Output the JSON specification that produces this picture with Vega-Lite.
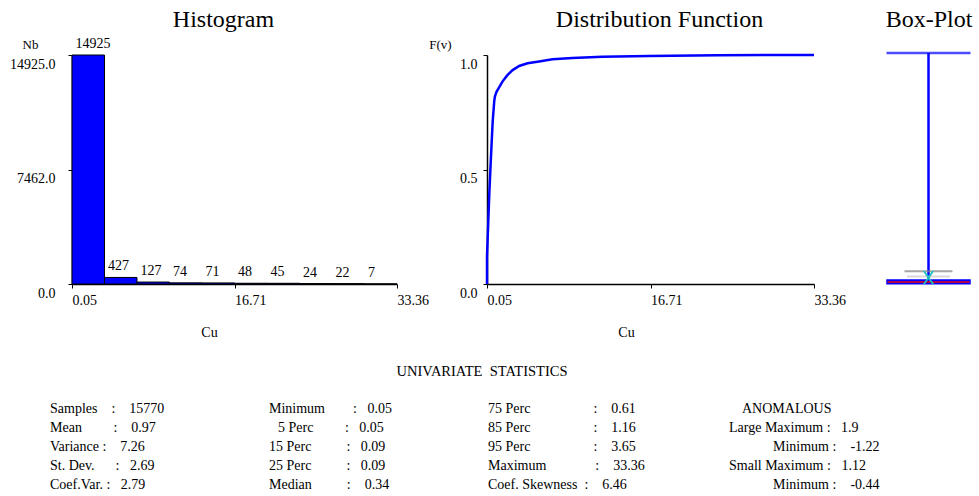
{
  "$schema": "https://vega.github.io/schema/vega-lite/v6.json",
  "width": 979,
  "height": 496,
  "autosize": {"type": "none"},
  "padding": 0,
  "background": "#ffffff",
  "config": {
    "view": {"stroke": null},
    "font": "Liberation Serif",
    "text": {"font": "Liberation Serif", "color": "#000000"},
    "axis": {
      "domainColor": "#000000",
      "domainWidth": 1.5,
      "tickColor": "#000000",
      "tickWidth": 1,
      "tickSize": 4,
      "labelColor": "#000000",
      "labelFont": "Liberation Serif",
      "labelFontSize": 14,
      "titleFont": "Liberation Serif",
      "titleFontSize": 14,
      "titleFontWeight": "normal",
      "titleColor": "#000000",
      "grid": false,
      "labelFlush": false,
      "labelOverlap": false,
      "labelBound": false
    }
  },
  "datasets": {
    "hist": [
      {"lo": 0.05, "hi": 3.38, "count": 14925},
      {"lo": 3.38, "hi": 6.71, "count": 427},
      {"lo": 6.71, "hi": 10.04, "count": 127},
      {"lo": 10.04, "hi": 13.37, "count": 74},
      {"lo": 13.37, "hi": 16.71, "count": 71},
      {"lo": 16.71, "hi": 20.04, "count": 48},
      {"lo": 20.04, "hi": 23.37, "count": 45},
      {"lo": 23.37, "hi": 26.70, "count": 24},
      {"lo": 26.70, "hi": 30.03, "count": 22},
      {"lo": 30.03, "hi": 33.36, "count": 7}
    ],
    "ecdf": [
      {"cu": 0.05, "F": 0},
      {"cu": 0.05, "F": 0.12},
      {"cu": 0.29, "F": 0.40},
      {"cu": 0.46, "F": 0.56},
      {"cu": 0.63, "F": 0.71},
      {"cu": 0.79, "F": 0.80},
      {"cu": 0.86, "F": 0.82},
      {"cu": 1.03, "F": 0.84},
      {"cu": 1.30, "F": 0.86},
      {"cu": 1.64, "F": 0.885},
      {"cu": 2.15, "F": 0.913},
      {"cu": 2.66, "F": 0.934},
      {"cu": 3.33, "F": 0.952},
      {"cu": 4.18, "F": 0.964},
      {"cu": 5.36, "F": 0.972},
      {"cu": 6.72, "F": 0.981},
      {"cu": 8.75, "F": 0.987},
      {"cu": 11.80, "F": 0.992},
      {"cu": 16.53, "F": 0.996},
      {"cu": 23.64, "F": 0.999},
      {"cu": 33.36, "F": 1.0}
    ],
    "box": [
      {"variable": "Cu", "q1": 0.09, "median": 0.34, "q3": 0.61, "max": 33.36, "mean": 0.97, "large_max": 1.9, "small_max": 1.12}
    ],
    "texts": [
      {"text": "Histogram", "kind": "title", "col": 1, "row": 0},
      {"text": "Distribution Function", "kind": "title", "col": 6, "row": 0},
      {"text": "Box-Plot", "kind": "title", "col": 10, "row": 0},
      {"text": "UNIVARIATE\u00a0\u00a0STATISTICS", "kind": "header", "col": 4, "row": 1},
      {"text": "Samples\u00a0\u00a0\u00a0\u00a0:\u00a0\u00a0\u00a0\u00a015770", "kind": "stat", "col": 0, "row": 2},
      {"text": "Mean\u00a0\u00a0\u00a0\u00a0\u00a0\u00a0\u00a0\u00a0\u00a0:\u00a0\u00a0\u00a0\u00a00.97", "kind": "stat", "col": 0, "row": 3},
      {"text": "Variance\u00a0:\u00a0\u00a0\u00a0\u00a07.26", "kind": "stat", "col": 0, "row": 4},
      {"text": "St. Dev.\u00a0\u00a0\u00a0\u00a0\u00a0\u00a0:\u00a0\u00a0\u00a02.69", "kind": "stat", "col": 0, "row": 5},
      {"text": "Coef.Var.\u00a0:\u00a0\u00a0\u00a02.79", "kind": "stat", "col": 0, "row": 6},
      {"text": "Minimum\u00a0\u00a0\u00a0\u00a0\u00a0\u00a0\u00a0\u00a0:\u00a0\u00a0\u00a00.05", "kind": "stat", "col": 2, "row": 2},
      {"text": "5 Perc\u00a0\u00a0\u00a0\u00a0\u00a0\u00a0\u00a0\u00a0\u00a0:\u00a0\u00a0\u00a00.05", "kind": "stat", "col": 3, "row": 3},
      {"text": "15 Perc\u00a0\u00a0\u00a0\u00a0\u00a0\u00a0\u00a0\u00a0\u00a0\u00a0:\u00a0\u00a0\u00a00.09", "kind": "stat", "col": 2, "row": 4},
      {"text": "25 Perc\u00a0\u00a0\u00a0\u00a0\u00a0\u00a0\u00a0\u00a0\u00a0\u00a0:\u00a0\u00a0\u00a00.09", "kind": "stat", "col": 2, "row": 5},
      {"text": "Median\u00a0\u00a0\u00a0\u00a0\u00a0\u00a0\u00a0\u00a0\u00a0\u00a0:\u00a0\u00a0\u00a0\u00a00.34", "kind": "stat", "col": 2, "row": 6},
      {"text": "75 Perc\u00a0\u00a0\u00a0\u00a0\u00a0\u00a0\u00a0\u00a0\u00a0\u00a0\u00a0\u00a0\u00a0\u00a0\u00a0\u00a0\u00a0\u00a0:\u00a0\u00a0\u00a0\u00a00.61", "kind": "stat", "col": 5, "row": 2},
      {"text": "85 Perc\u00a0\u00a0\u00a0\u00a0\u00a0\u00a0\u00a0\u00a0\u00a0\u00a0\u00a0\u00a0\u00a0\u00a0\u00a0\u00a0\u00a0\u00a0:\u00a0\u00a0\u00a0\u00a01.16", "kind": "stat", "col": 5, "row": 3},
      {"text": "95 Perc\u00a0\u00a0\u00a0\u00a0\u00a0\u00a0\u00a0\u00a0\u00a0\u00a0\u00a0\u00a0\u00a0\u00a0\u00a0\u00a0\u00a0\u00a0:\u00a0\u00a0\u00a0\u00a03.65", "kind": "stat", "col": 5, "row": 4},
      {"text": "Maximum\u00a0\u00a0\u00a0\u00a0\u00a0\u00a0\u00a0\u00a0\u00a0\u00a0\u00a0\u00a0\u00a0\u00a0:\u00a0\u00a0\u00a0\u00a033.36", "kind": "stat", "col": 5, "row": 5},
      {"text": "Coef. Skewness\u00a0\u00a0:\u00a0\u00a0\u00a0\u00a06.46", "kind": "stat", "col": 5, "row": 6},
      {"text": "ANOMALOUS", "kind": "stat", "col": 8, "row": 2},
      {"text": "Large Maximum\u00a0:\u00a0\u00a0\u00a01.9", "kind": "stat", "col": 7, "row": 3},
      {"text": "Minimum\u00a0:\u00a0\u00a0\u00a0\u00a0-1.22", "kind": "stat", "col": 9, "row": 4},
      {"text": "Small Maximum\u00a0:\u00a0\u00a0\u00a01.12", "kind": "stat", "col": 7, "row": 5},
      {"text": "Minimum\u00a0:\u00a0\u00a0\u00a0\u00a0-0.44", "kind": "stat", "col": 9, "row": 6}
    ]
  },
  "layer": [
    {
      "data": {"name": "hist"},
      "layer": [
        {
          "mark": {"type": "bar", "fill": "#0000FF", "stroke": "#000000", "strokeWidth": 1},
          "encoding": {
            "x": {
              "field": "lo", "type": "quantitative",
              "scale": {"domain": [0.05, 33.36], "range": [72, 397], "nice": false, "zero": false},
              "axis": {
                "orient": "bottom", "offset": -212,
                "values": [0.05, 16.71, 33.36], "format": ".2f",
                "labelAlign": "left", "labelBaseline": "top", "labelPadding": 5,
                "title": "Cu", "titleX": 209, "titleY": 48,
                "titleAlign": "center", "titleBaseline": "middle"
              }
            },
            "x2": {"field": "hi"},
            "y": {
              "field": "count", "type": "quantitative",
              "scale": {"domain": [0, 14925], "range": [284, 55], "nice": false, "zero": false},
              "axis": {
                "orient": "left", "offset": -72,
                "values": [0, 7462, 14925], "format": ".1f",
                "labelAlign": "right", "labelBaseline": "middle",
                "labelOffset": 9, "labelPadding": 13,
                "title": "Nb", "titleAngle": 0, "titleX": -42, "titleY": 44,
                "titleAlign": "center", "titleBaseline": "middle", "titleFontSize": 13
              }
            },
            "y2": {"datum": 0}
          }
        },
        {
          "mark": {"type": "text", "align": "left", "baseline": "alphabetic", "dx": 3.5, "dy": -7, "fontSize": 14},
          "encoding": {
            "x": {"field": "lo", "type": "quantitative"},
            "y": {"field": "count", "type": "quantitative"},
            "text": {"field": "count", "type": "quantitative", "format": "d"}
          }
        }
      ]
    },
    {
      "data": {"name": "ecdf"},
      "mark": {"type": "line", "color": "#0000FF", "strokeWidth": 2.5, "interpolate": "linear"},
      "encoding": {
        "x": {
          "field": "cu", "type": "quantitative",
          "scale": {"domain": [0.05, 33.36], "range": [487, 814], "nice": false, "zero": false},
          "axis": {
            "orient": "bottom", "offset": -212,
            "values": [0.05, 16.71, 33.36], "format": ".2f",
            "labelAlign": "left", "labelBaseline": "top", "labelPadding": 5,
            "title": "Cu", "titleX": 626, "titleY": 48,
            "titleAlign": "center", "titleBaseline": "middle"
          }
        },
        "y": {
          "field": "F", "type": "quantitative",
          "scale": {"domain": [0, 1], "range": [284, 55], "nice": false, "zero": false},
          "axis": {
            "orient": "left", "offset": -487,
            "values": [0, 0.5, 1], "format": ".1f",
            "labelAlign": "right", "labelBaseline": "middle",
            "labelOffset": 9, "labelPadding": 6,
            "title": "F(v)", "titleAngle": 0, "titleX": -47, "titleY": 44,
            "titleAlign": "center", "titleBaseline": "middle", "titleFontSize": 13
          }
        },
        "order": {"field": "F", "type": "quantitative"}
      }
    },
    {
      "data": {"name": "box"},
      "layer": [
        {
          "mark": {"type": "rule", "color": "#0000FF", "strokeWidth": 2.5},
          "encoding": {
            "x": {
              "field": "variable", "type": "nominal",
              "scale": {"type": "band", "range": [887, 970], "paddingInner": 0, "paddingOuter": 0},
              "axis": null
            },
            "y": {
              "field": "q3", "type": "quantitative",
              "scale": {"domain": [0.05, 33.36], "range": [284, 53], "nice": false, "zero": false},
              "axis": null
            },
            "y2": {"field": "max"}
          }
        },
        {
          "mark": {"type": "tick", "color": "#0000FF", "thickness": 2.5, "size": 84},
          "encoding": {
            "x": {"field": "variable", "type": "nominal", "axis": null},
            "y": {"field": "max", "type": "quantitative", "axis": null}
          }
        },
        {
          "mark": {"type": "tick", "color": "#808080", "thickness": 2, "size": 48},
          "encoding": {
            "x": {"field": "variable", "type": "nominal", "axis": null},
            "y": {"field": "large_max", "type": "quantitative", "axis": null}
          }
        },
        {
          "mark": {"type": "tick", "color": "#C8C8C8", "thickness": 2, "size": 43},
          "encoding": {
            "x": {"field": "variable", "type": "nominal", "axis": null},
            "y": {"field": "small_max", "type": "quantitative", "axis": null}
          }
        },
        {
          "mark": {"type": "bar", "fill": "#0000FF", "stroke": "#0000FF", "strokeWidth": 1.5},
          "encoding": {
            "x": {"field": "variable", "type": "nominal", "axis": null},
            "y": {"field": "q1", "type": "quantitative", "axis": null},
            "y2": {"field": "q3"}
          }
        },
        {
          "mark": {"type": "tick", "color": "#FF0000", "thickness": 2, "size": 82},
          "encoding": {
            "x": {"field": "variable", "type": "nominal", "axis": null},
            "y": {"field": "median", "type": "quantitative", "axis": null}
          }
        },
        {
          "mark": {
            "type": "point", "shape": "M-0.7,-1L0.7,1M0.7,-1L-0.7,1",
            "filled": false, "stroke": "#20C0C0", "strokeWidth": 1.8, "size": 180, "opacity": 1
          },
          "encoding": {
            "x": {"field": "variable", "type": "nominal", "axis": null},
            "y": {"field": "mean", "type": "quantitative", "axis": null}
          }
        }
      ]
    },
    {
      "data": {"name": "texts"},
      "layer": [
        {
          "transform": [{"filter": "datum.kind === 'title'"}],
          "mark": {"type": "text", "fontSize": 24, "align": "center", "baseline": "alphabetic"},
          "encoding": {
            "x": {
              "field": "col", "type": "quantitative",
              "scale": {
                "domain": [0, 1, 2, 3, 4, 5, 6, 7, 8, 9, 10],
                "range": [50, 223.5, 269, 278, 482, 488, 659.5, 729, 742, 773, 929],
                "nice": false, "zero": false
              },
              "axis": null
            },
            "y": {
              "field": "row", "type": "quantitative",
              "scale": {"domain": [0, 1, 2, 6], "range": [27, 376, 413, 489], "nice": false, "zero": false},
              "axis": null
            },
            "text": {"field": "text"}
          }
        },
        {
          "transform": [{"filter": "datum.kind === 'header'"}],
          "mark": {"type": "text", "fontSize": 14.5, "align": "center", "baseline": "alphabetic"},
          "encoding": {
            "x": {"field": "col", "type": "quantitative", "axis": null},
            "y": {"field": "row", "type": "quantitative", "axis": null},
            "text": {"field": "text"}
          }
        },
        {
          "transform": [{"filter": "datum.kind === 'stat'"}],
          "mark": {"type": "text", "fontSize": 14, "align": "left", "baseline": "alphabetic"},
          "encoding": {
            "x": {"field": "col", "type": "quantitative", "axis": null},
            "y": {"field": "row", "type": "quantitative", "axis": null},
            "text": {"field": "text"}
          }
        }
      ]
    }
  ],
  "resolve": {
    "scale": {"x": "independent", "y": "independent"},
    "axis": {"x": "independent", "y": "independent"}
  }
}
